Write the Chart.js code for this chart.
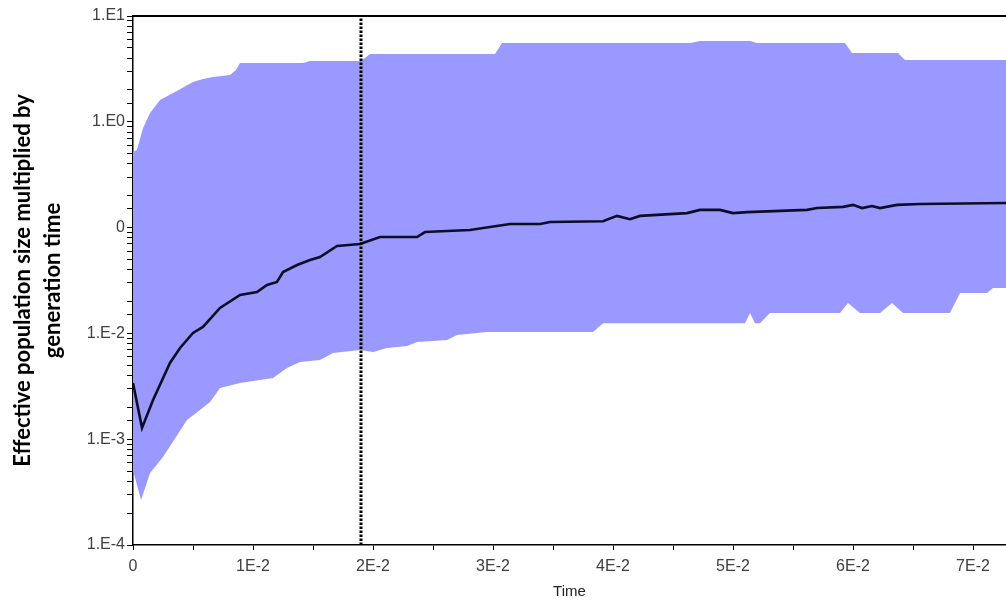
<!DOCTYPE html>
<html>
<head>
<meta charset="utf-8">
<script src="https://cdn.jsdelivr.net/npm/chart.js@4.4.1/dist/chart.umd.min.js"></script>
<style>
  html, body { margin: 0; padding: 0; background: #fff; }
  #wrap { width: 1006px; height: 601px; }
</style>
</head>
<body>
<div id="wrap"><canvas id="skyline" width="1006" height="601"></canvas></div>
<script>
// Axis ranges and tick labels (as printed in the original plot)
const timeMin = 0;
const timeMax = 0.07275;
const sizeMin = 1e-4;
const sizeMax = 10;
const xTickLabels = ["0", "1E-2", "2E-2", "3E-2", "4E-2", "5E-2", "6E-2", "7E-2"];
const yTickLabels = ["1.E-4", "1.E-3", "1.E-2", "0", "1.E0", "1.E1"];
const markerTime = 0.019;

// Median of the skyline
const medianTime = [0, 0.00075, 0.00167, 0.00308, 0.00392, 0.005, 0.00583, 0.00725, 0.00892, 0.01033,
  0.01117, 0.012, 0.0125, 0.01367, 0.01475, 0.01558, 0.017, 0.01892, 0.02058, 0.02367,
  0.02433, 0.02808, 0.03142, 0.03392, 0.03475, 0.03917, 0.04033, 0.04142, 0.04225, 0.04617,
  0.04725, 0.04892, 0.05, 0.05117, 0.05617, 0.057, 0.05917, 0.06, 0.06075, 0.06158,
  0.06225, 0.06367, 0.06558, 0.0728];
const medianValue = [3.4e-3, 1.28e-3, 2.35e-3, 5.25e-3, 7.28e-3, 1.01e-2, 1.15e-2, 1.74e-2, 2.31e-2, 2.46e-2,
  2.87e-2, 3.06e-2, 3.8e-2, 4.43e-2, 4.94e-2, 5.27e-2, 6.7e-2, 7.0e-2, 8.15e-2, 8.15e-2,
  9.08e-2, 9.48e-2, 0.108, 0.108, 0.113, 0.115, 0.129, 0.12, 0.129, 0.137,
  0.147, 0.147, 0.137, 0.14, 0.147, 0.153, 0.157, 0.164, 0.153, 0.16,
  0.153, 0.164, 0.167, 0.171];

// Upper bound of the 95% HPD band
const upperTime = [0, 0.00033, 0.00083, 0.00142, 0.00225, 0.0035, 0.005, 0.00583, 0.00667, 0.00808,
  0.00858, 0.00892, 0.01417, 0.01475, 0.019, 0.01975, 0.03017, 0.03075, 0.04642, 0.04725,
  0.05142, 0.052, 0.05933, 0.05992, 0.06375, 0.06433, 0.0728];
const upperValue = [0.52, 0.54, 0.87, 1.21, 1.61, 1.91, 2.38, 2.54, 2.65, 2.77,
  3.09, 3.6, 3.6, 3.76, 3.76, 4.37, 4.37, 5.56, 5.56, 5.81,
  5.81, 5.56, 5.56, 4.47, 4.47, 3.84, 3.84];

// Lower bound of the 95% HPD band
const lowerTime = [0, 0.00067, 0.00142, 0.0025, 0.0045, 0.00558, 0.00642, 0.00725, 0.00892, 0.01167,
  0.01283, 0.01392, 0.01558, 0.01667, 0.01892, 0.02, 0.02117, 0.02283, 0.02367, 0.02617,
  0.027, 0.0295, 0.03833, 0.03917, 0.051, 0.05142, 0.05183, 0.05225, 0.05308, 0.05892,
  0.05958, 0.06058, 0.06225, 0.06325, 0.06417, 0.06808, 0.06892, 0.07117, 0.07167, 0.0728];
const lowerValue = [5.1e-4, 2.66e-4, 4.8e-4, 6.8e-4, 1.52e-3, 1.89e-3, 2.25e-3, 3.05e-3, 3.4e-3, 3.79e-3,
  4.71e-3, 5.37e-3, 5.6e-3, 6.53e-3, 6.97e-3, 6.67e-3, 7.28e-3, 7.6e-3, 8.3e-3, 8.67e-3,
  9.66e-3, 1.03e-2, 1.03e-2, 1.25e-2, 1.25e-2, 1.56e-2, 1.25e-2, 1.25e-2, 1.56e-2, 1.56e-2,
  1.94e-2, 1.56e-2, 1.56e-2, 1.94e-2, 1.56e-2, 1.56e-2, 2.41e-2, 2.41e-2, 2.69e-2, 2.69e-2];

// Pair up time / value arrays into Chart.js points
function toPoints(xs, ys) {
  return xs.map((x, i) => ({ x: x, y: ys[i] }));
}

const tickFont = { family: "'Liberation Sans', Arial, sans-serif", size: 16 };
const tickColor = "#404040";

// Label only the whole 1E-2 steps, leave the half steps as bare tick marks
function xTickLabel(value) {
  const n = Math.round(value / 0.005);
  if (Math.abs(value - n * 0.005) > 1e-9 || n % 2 !== 0) return "";
  return xTickLabels[n / 2] || "";
}

// Label only the powers of ten
function yTickLabel(value) {
  const e = Math.log10(value);
  const r = Math.round(e);
  if (Math.abs(e - r) > 1e-6) return "";
  return yTickLabels[r + 4] || "";
}

new Chart(document.getElementById("skyline"), {
  type: "line",
  data: {
    datasets: [
      {
        label: "marker",
        data: [{ x: markerTime, y: sizeMin }, { x: markerTime, y: sizeMax }],
        borderColor: "#000",
        borderWidth: 3,
        borderDash: [2.5, 1.5],
        pointRadius: 0,
        fill: false,
        order: 0,
      },
      {
        label: "median",
        data: toPoints(medianTime, medianValue),
        borderColor: "#0d0d26",
        borderWidth: 2.6,
        pointRadius: 0,
        fill: false,
        order: 1,
      },
      {
        label: "lower",
        data: toPoints(lowerTime, lowerValue),
        borderColor: "#9999ff",
        borderWidth: 0,
        pointRadius: 0,
        fill: false,
        order: 3,
      },
      {
        label: "upper",
        data: toPoints(upperTime, upperValue),
        borderColor: "#9999ff",
        backgroundColor: "#9999ff",
        borderWidth: 0,
        pointRadius: 0,
        fill: 2,
        order: 2,
      },
    ],
  },
  options: {
    responsive: false,
    animation: false,
    devicePixelRatio: 1,
    layout: { padding: 0 },
    plugins: {
      legend: { display: false },
      tooltip: { enabled: false },
    },
    elements: { line: { tension: 0 } },
    scales: {
      x: {
        type: "linear",
        position: "bottom",
        min: timeMin,
        max: timeMax,
        afterFit: (scale) => { scale.height = 56; },
        ticks: {
          stepSize: 0.005,
          includeBounds: false,
          autoSkip: false,
          maxRotation: 0,
          padding: 7,
          font: tickFont,
          color: tickColor,
          callback: xTickLabel,
        },
        grid: { drawOnChartArea: false, drawTicks: true, tickLength: 5, color: "#000" },
        border: { display: true, color: "#000", width: 1.5 },
        title: {
          display: true,
          text: "Time",
          color: "#222",
          font: { family: "'Liberation Sans', Arial, sans-serif", size: 15 },
          padding: { top: 0, bottom: 0 },
        },
      },
      top: {
        type: "linear",
        position: "top",
        min: timeMin,
        max: timeMax,
        afterFit: (scale) => { scale.height = 16; },
        ticks: { display: false },
        grid: { drawOnChartArea: false, drawTicks: false },
        border: { display: true, color: "#000", width: 2 },
      },
      y: {
        type: "logarithmic",
        position: "left",
        min: sizeMin,
        max: sizeMax,
        afterFit: (scale) => { scale.width = 133; },
        ticks: {
          autoSkip: false,
          padding: 2,
          font: tickFont,
          color: tickColor,
          callback: yTickLabel,
        },
        grid: { drawOnChartArea: false, drawTicks: true, tickLength: 6, color: "#000" },
        border: { display: true, color: "#000", width: 1.5 },
        title: {
          display: true,
          text: ["Effective population size multiplied by", "generation time"],
          color: "#000",
          font: { family: "Lato, 'Open Sans', sans-serif", size: 22, weight: "bold", lineHeight: "30px" },
          padding: { top: 8, bottom: 0 },
        },
      },
    },
  },
});
</script>
</body>
</html>
